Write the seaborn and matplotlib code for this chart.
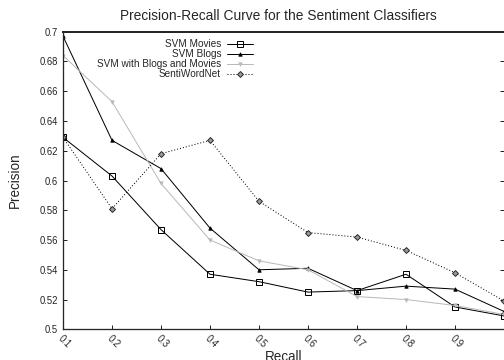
import matplotlib
matplotlib.use("Agg")
import matplotlib.pyplot as plt
import seaborn as sns
import pandas as pd

# Recall levels and precision of each classifier
recall = [0.1, 0.2, 0.3, 0.4, 0.5, 0.6, 0.7, 0.8, 0.9, 1.0]
svm_movies = [0.629, 0.603, 0.567, 0.537, 0.532, 0.525, 0.526, 0.537, 0.515, 0.509]
svm_blogs = [0.697, 0.627, 0.608, 0.568, 0.540, 0.541, 0.526, 0.529, 0.527, 0.512]
svm_both = [0.684, 0.653, 0.598, 0.560, 0.546, 0.540, 0.522, 0.520, 0.516, 0.510]
sentiwordnet = [0.629, 0.581, 0.618, 0.627, 0.586, 0.565, 0.562, 0.553, 0.538, 0.519]

series_names = ["SVM Movies", "SVM Blogs", "SVM with Blogs and Movies", "SentiWordNet"]
x_ticks = [0.1, 0.2, 0.3, 0.4, 0.5, 0.6, 0.7, 0.8, 0.9]
y_ticks = [0.5, 0.52, 0.54, 0.56, 0.58, 0.6, 0.62, 0.64, 0.66, 0.68, 0.7]

sns.set_style("ticks")
plt.rcParams["font.family"] = ["Liberation Sans", "DejaVu Sans"]

df = pd.DataFrame({
    "Recall": recall * 4,
    "Precision": svm_movies + svm_blogs + svm_both + sentiwordnet,
    "Classifier": sum([[n] * len(recall) for n in series_names], []),
})

styles = {
    "SVM Movies": dict(color="black", marker="s", markersize=6.5, markerfacecolor="none",
                       markeredgecolor="black", markeredgewidth=1.0, linestyle="-"),
    "SVM Blogs": dict(color="black", marker="^", markersize=3.5, markerfacecolor="black",
                      markeredgecolor="black", linestyle="-"),
    "SVM with Blogs and Movies": dict(color="#bababa", marker="v", markersize=3.5,
                                      markerfacecolor="#bababa", markeredgecolor="#bababa",
                                      linestyle="-"),
    "SentiWordNet": dict(color="black", marker="D", markersize=4.2, markerfacecolor="#999999",
                         markeredgecolor="#222222", markeredgewidth=0.9, linestyle=(0, (1, 2))),
}

fig = plt.figure(figsize=(7, 5), dpi=72)
ax = fig.add_axes([0.125, 0.0853, 0.875, 0.8266])

for name in series_names:
    sub = df[df["Classifier"] == name]
    sns.lineplot(data=sub, x="Recall", y="Precision", ax=ax, label=name,
                 linewidth=1.0, **styles[name])

ax.set_xlim(0.1, 1.0)
ax.set_ylim(0.5, 0.7)
ax.set_xticks(x_ticks)
ax.set_xticklabels([f"{v:g}" for v in x_ticks], rotation=-45, ha="left", va="top",
                   rotation_mode="anchor", fontsize=9.5, color="#222222")
ax.set_yticks(y_ticks)
ax.set_yticklabels([f"{v:g}" for v in y_ticks], fontsize=9.5, color="#222222")
ax.tick_params(axis="both", direction="in", length=4, width=1, right=True)
ax.tick_params(axis="y", pad=5)
ax.tick_params(axis="x", pad=4)

for side in ["left", "bottom"]:
    ax.spines[side].set_linewidth(1.3)
ax.spines["top"].set_linewidth(2.0)
ax.spines["right"].set_visible(False)

ax.set_title("Precision-Recall Curve for the Sentiment Classifiers", fontsize=13.8,
             pad=12, x=0.4875)
ax.set_xlabel("Recall", fontsize=13.5, labelpad=0)
ax.set_ylabel("Precision", fontsize=13.5, labelpad=18)

# Right-aligned labels with the line sample after the text
ax.legend(loc="upper right", bbox_to_anchor=(258 / 504, 1 - 34 / 360),
          bbox_transform=fig.transFigure, frameon=False, markerfirst=False,
          fontsize=10, handlelength=2.6, handletextpad=0.6,
          labelspacing=0.0, borderpad=0.0)

fig.savefig("out.png", dpi=72)
